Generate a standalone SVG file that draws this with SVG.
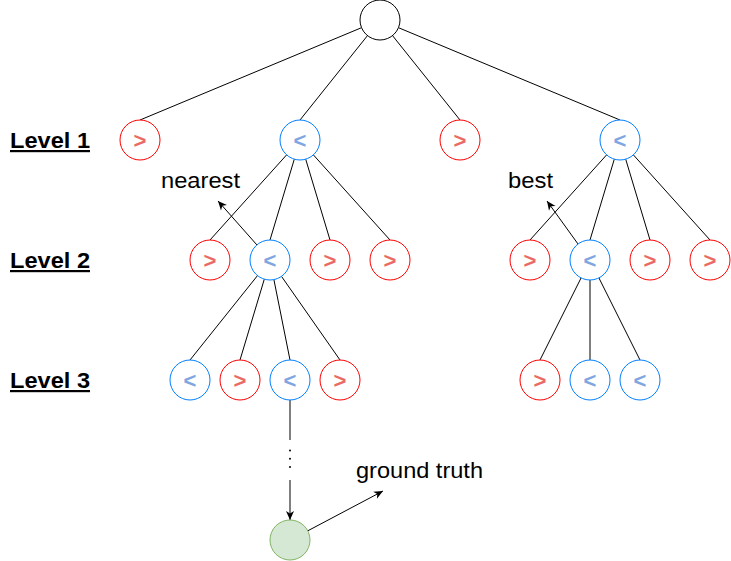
<svg xmlns="http://www.w3.org/2000/svg" width="731" height="561" viewBox="0 0 731 561">
<defs>
<style>
.r{fill:#fff;stroke:#FF0000;stroke-width:1}
.b{fill:#fff;stroke:#007FFF;stroke-width:1}
.k{fill:#fff;stroke:#000;stroke-width:1}
.g{fill:#d5e8d4;stroke:#82b366;stroke-width:1}
.sr{fill:#EA6B66;font-family:"Liberation Sans",Arial,sans-serif;font-weight:bold;font-size:22px;text-anchor:middle}
.sb{fill:#7EA6E0;font-family:"Liberation Sans",Arial,sans-serif;font-weight:bold;font-size:22px;text-anchor:middle}
.lv{font-family:"Liberation Sans",Arial,sans-serif;font-weight:bold;font-size:22px;text-decoration:underline;fill:#000}
.lb{font-family:"Liberation Sans",Arial,sans-serif;font-size:22.5px;fill:#000}
.e{stroke:#000;stroke-width:1;fill:none}
</style>
<marker id="ah" markerWidth="12" markerHeight="12" refX="10" refY="6" orient="auto" markerUnits="userSpaceOnUse">
<path d="M1,2 L10,6 L1,10 L3.5,6 Z" fill="#000"/>
</marker>
</defs>
<g id="connectors">
<line class="e" x1="361.5" y1="27.7" x2="140" y2="120"/>
<line class="e" x1="367.5" y1="35.6" x2="300" y2="120"/>
<line class="e" x1="392.5" y1="35.6" x2="460" y2="120"/>
<line class="e" x1="398.5" y1="27.7" x2="620" y2="120"/>
<line class="e" x1="286.6" y1="154.9" x2="210" y2="240"/>
<line class="e" x1="294.3" y1="159.2" x2="270" y2="240"/>
<line class="e" x1="305.7" y1="159.2" x2="330" y2="240"/>
<line class="e" x1="313.4" y1="154.9" x2="390" y2="240"/>
<line class="e" x1="606.6" y1="154.9" x2="530" y2="240"/>
<line class="e" x1="614.3" y1="159.2" x2="590" y2="240"/>
<line class="e" x1="625.7" y1="159.2" x2="650" y2="240"/>
<line class="e" x1="633.4" y1="154.9" x2="710" y2="240"/>
<line class="e" x1="257.5" y1="275.6" x2="190" y2="360"/>
<line class="e" x1="264.3" y1="279.2" x2="240" y2="360"/>
<line class="e" x1="273.9" y1="279.6" x2="290" y2="360"/>
<line class="e" x1="281.5" y1="276.4" x2="340" y2="360"/>
<line class="e" x1="581.1" y1="277.9" x2="540" y2="360"/>
<line class="e" x1="590" y1="280" x2="590" y2="360"/>
<line class="e" x1="598.9" y1="277.9" x2="640" y2="360"/>
<line class="e" x1="257" y1="245" x2="218" y2="201" marker-end="url(#ah)"/>
<line class="e" x1="578" y1="244" x2="547" y2="201" marker-end="url(#ah)"/>
<line class="e" x1="290" y1="400" x2="290" y2="440"/>
<line x1="290" y1="450.5" x2="290" y2="468" stroke="#000" stroke-width="2" stroke-linecap="round" stroke-dasharray="0 8.3"/>
<line class="e" x1="290" y1="480" x2="290" y2="520" marker-end="url(#ah)"/>
<line class="e" x1="308" y1="530.7" x2="383" y2="491" marker-end="url(#ah)"/>
</g>
<g id="root"><circle class="k" cx="380" cy="20" r="20"/></g>
<g id="l1a"><circle class="r" cx="140" cy="140" r="20"/><text class="sr" x="140" y="147.5">&gt;</text></g>
<g id="l1b"><circle class="b" cx="300" cy="140" r="20"/><text class="sb" x="300" y="147.5">&lt;</text></g>
<g id="l1c"><circle class="r" cx="460" cy="140" r="20"/><text class="sr" x="460" y="147.5">&gt;</text></g>
<g id="l1d"><circle class="b" cx="620" cy="140" r="20"/><text class="sb" x="620" y="147.5">&lt;</text></g>
<g id="l2a"><circle class="r" cx="210" cy="260" r="20"/><text class="sr" x="210" y="267.5">&gt;</text></g>
<g id="l2b"><circle class="b" cx="270" cy="260" r="20"/><text class="sb" x="270" y="267.5">&lt;</text></g>
<g id="l2c"><circle class="r" cx="330" cy="260" r="20"/><text class="sr" x="330" y="267.5">&gt;</text></g>
<g id="l2d"><circle class="r" cx="390" cy="260" r="20"/><text class="sr" x="390" y="267.5">&gt;</text></g>
<g id="l2e"><circle class="r" cx="530" cy="260" r="20"/><text class="sr" x="530" y="267.5">&gt;</text></g>
<g id="l2f"><circle class="b" cx="590" cy="260" r="20"/><text class="sb" x="590" y="267.5">&lt;</text></g>
<g id="l2g"><circle class="r" cx="650" cy="260" r="20"/><text class="sr" x="650" y="267.5">&gt;</text></g>
<g id="l2h"><circle class="r" cx="710" cy="260" r="20"/><text class="sr" x="710" y="267.5">&gt;</text></g>
<g id="l3a"><circle class="b" cx="190" cy="380" r="20"/><text class="sb" x="190" y="387.5">&lt;</text></g>
<g id="l3b"><circle class="r" cx="240" cy="380" r="20"/><text class="sr" x="240" y="387.5">&gt;</text></g>
<g id="l3c"><circle class="b" cx="290" cy="380" r="20"/><text class="sb" x="290" y="387.5">&lt;</text></g>
<g id="l3d"><circle class="r" cx="340" cy="380" r="20"/><text class="sr" x="340" y="387.5">&gt;</text></g>
<g id="l3e"><circle class="r" cx="540" cy="380" r="20"/><text class="sr" x="540" y="387.5">&gt;</text></g>
<g id="l3f"><circle class="b" cx="590" cy="380" r="20"/><text class="sb" x="590" y="387.5">&lt;</text></g>
<g id="l3g"><circle class="b" cx="640" cy="380" r="20"/><text class="sb" x="640" y="387.5">&lt;</text></g>
<g id="truth"><circle class="g" cx="290" cy="540" r="20"/></g>
<g id="labels">
<text class="lv" x="10" y="148" textLength="80" lengthAdjust="spacingAndGlyphs">Level 1</text>
<text class="lv" x="10" y="268" textLength="80" lengthAdjust="spacingAndGlyphs">Level 2</text>
<text class="lv" x="10" y="388" textLength="80" lengthAdjust="spacingAndGlyphs">Level 3</text>
<text class="lb" x="161" y="188" textLength="79" lengthAdjust="spacingAndGlyphs">nearest</text>
<text class="lb" x="508" y="188" textLength="45" lengthAdjust="spacingAndGlyphs">best</text>
<text class="lb" x="356" y="478" textLength="127" lengthAdjust="spacingAndGlyphs">ground truth</text>
</g>
</svg>
